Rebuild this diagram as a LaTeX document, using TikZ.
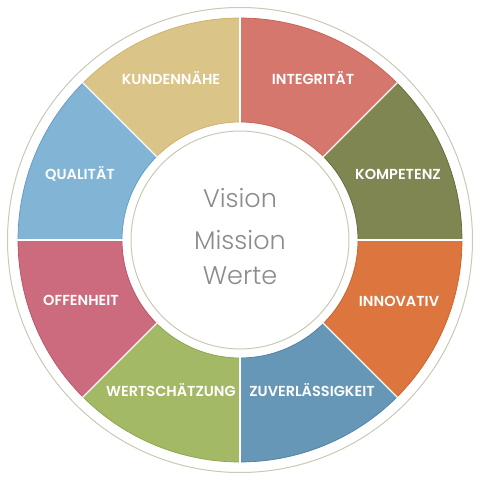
\documentclass[tikz,border=0pt]{standalone}
\usepackage{fontspec}
\setmainfont{Poppins}[UprightFont=* SemiBold]
\newfontfamily\lightfont{Poppins}[UprightFont=* Light]
\definecolor{ringline}{HTML}{C9CAB5}
\definecolor{cKun}{HTML}{DBC487}\definecolor{dKun}{HTML}{CDB06A}
\definecolor{cInt}{HTML}{D6776E}\definecolor{dInt}{HTML}{C95D53}
\definecolor{cKom}{HTML}{7F8651}\definecolor{dKom}{HTML}{5F6A35}
\definecolor{cInn}{HTML}{DD763E}\definecolor{dInn}{HTML}{C95F25}
\definecolor{cZuv}{HTML}{6797B7}\definecolor{dZuv}{HTML}{4E7FA0}
\definecolor{cWer}{HTML}{A3B965}\definecolor{dWer}{HTML}{8BA44C}
\definecolor{cOff}{HTML}{CD6B7E}\definecolor{dOff}{HTML}{B95065}
\definecolor{cQua}{HTML}{82B4D6}\definecolor{dQua}{HTML}{5F9AC4}
\definecolor{centertext}{HTML}{8C8C8C}
\tikzset{
  seglabel/.style={text=white,font=\fontsize{14.5}{16}\selectfont,inner sep=0pt,anchor=base},
  ringstyle/.style={draw=ringline,line width=1pt,fill=white},
  centerlabel/.style={text=centertext,font=\lightfont\fontsize{25.5}{38}\selectfont,anchor=base,inner sep=0pt},
}
\newcommand{\segment}[4]{%
  \draw[fill=#3,draw=#4,line width=0.7pt] (#1:222) arc[start angle=#1,end angle=#2,radius=222]
    -- (#2:118) arc[start angle=#2,end angle=#1,radius=118] -- cycle;}
\begin{document}
\begin{tikzpicture}[x=1pt,y=1pt]
\useasboundingbox (0,0) rectangle (480,480);
\begin{scope}[shift={(240,240)}]
\node[circle,ringstyle,minimum size=465pt,inner sep=0pt] (outer) at (0,0) {};
\segment{90}{135}{cKun}{dKun}
\segment{45}{90}{cInt}{dInt}
\segment{0}{45}{cKom}{dKom}
\segment{-45}{0}{cInn}{dInn}
\segment{-90}{-45}{cZuv}{dZuv}
\segment{-135}{-90}{cWer}{dWer}
\segment{180}{225}{cOff}{dOff}
\segment{135}{180}{cQua}{dQua}
\foreach \a in {0,45,...,315}{\draw[white,line width=1.1pt] (\a:117) -- (\a:223);}
\node[circle,ringstyle,minimum size=218pt,inner sep=0pt] (inner) at (0,0) {};
\end{scope}
\node[seglabel] (kun) at (171,395) {KUNDENNÄHE};
\node[seglabel] (int) at (313,395) {INTEGRITÄT};
\node[seglabel] (kom) at (398,300) {KOMPETENZ};
\node[seglabel] (inn) at (399,173) {INNOVATIV};
\node[seglabel] (zuv) at (312,83) {ZUVERLÄSSIGKEIT};
\node[seglabel] (wer) at (171,83) {WERTSCHÄTZUNG};
\node[seglabel] (off) at (81,174) {OFFENHEIT};
\node[seglabel] (qua) at (80,300) {QUALITÄT};
\node[centerlabel] (v) at (240,272) {Vision};
\node[centerlabel] (m) at (240,230) {Mission};
\node[centerlabel] (w) at (240,195) {Werte};
\end{tikzpicture}
\end{document}
